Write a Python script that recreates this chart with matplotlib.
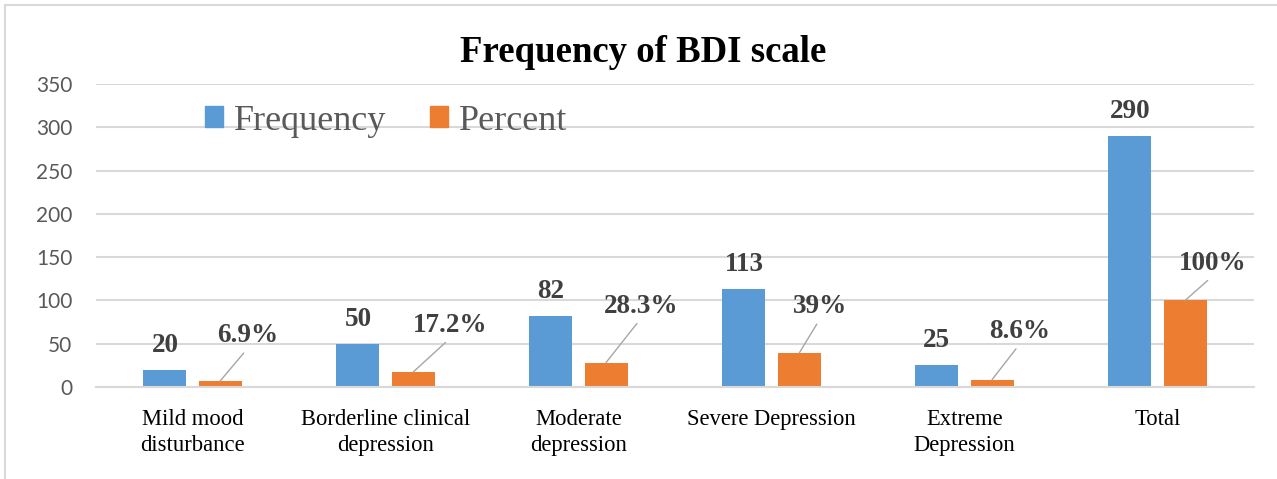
import matplotlib
matplotlib.use("Agg")
import matplotlib.pyplot as plt
from matplotlib.lines import Line2D
from matplotlib.patches import Patch
import numpy as np

# ── Data ──────────────────────────────────────────────────
categories = ["Mild mood\ndisturbance", "Borderline clinical\ndepression",
              "Moderate\ndepression", "Severe Depression",
              "Extreme\nDepression", "Total"]
frequency = [20, 50, 82, 113, 25, 290]
percent = [6.9, 17.2, 28.3, 39, 8.6, 100]
percent_labels = ["6.9%", "17.2%", "28.3%", "39%", "8.6%", "100%"]
yticks = [0, 50, 100, 150, 200, 250, 300, 350]

# label offsets (points) for the percent call-outs
pct_offsets = [(20, 28), (27, 29), (25, 36), (15, 29), (20, 30), (20, 22)]

BLUE = "#5b9bd5"
ORANGE = "#ed7d31"
LABEL = "#404040"
GRID = "#d9d9d9"
SERIF = ["Liberation Serif", "DejaVu Serif"]

W, H = 1277, 479
fig = plt.figure(figsize=(W / 100, H / 100), dpi=100)
ax = fig.add_axes([96 / W, 1 - 387 / H, (1254 - 96) / W, (387 - 84) / H])

x = np.arange(len(categories))
bw = 0.223
off = 0.143
ax.bar(x - off, frequency, bw, color=BLUE, zorder=2)
ax.bar(x + off, percent, bw, color=ORANGE, zorder=2)

# frequency values straight above the blue bars
for xi, v in zip(x, frequency):
    ax.annotate(str(v), xy=(xi - off, v), xytext=(0, 13),
                textcoords="offset points", ha="center", va="baseline",
                fontsize=19.5, fontweight="bold", color=LABEL, family=SERIF)

# percent values with leader lines
for xi, v, lab, (dx, dy) in zip(x, percent, percent_labels, pct_offsets):
    ax.annotate(lab, xy=(xi + off, v), xytext=(dx, dy),
                textcoords="offset points", ha="center", va="baseline",
                fontsize=19.5, fontweight="bold", color=LABEL, family=SERIF,
                arrowprops=dict(arrowstyle="-", color="#a6a6a6", lw=1,
                                shrinkA=2, shrinkB=0, relpos=(0.5, 0)))

ax.set_xlim(-0.5, len(categories) - 0.5)
ax.set_ylim(0, 350)
ax.set_yticks(yticks)
ax.set_xticks(x)
ax.set_xticklabels(categories, family=SERIF, fontsize=16.3, color="black",
                   linespacing=1.3)
for t in ax.get_yticklabels():
    t.set_family(["Lato", "DejaVu Sans"])
    t.set_fontsize(15)
    t.set_color("#595959")
ax.tick_params(axis="both", length=0)
ax.tick_params(axis="y", pad=17)
ax.tick_params(axis="x", pad=16)
ax.yaxis.grid(True, color=GRID, lw=1.5, zorder=0)
ax.set_axisbelow(True)
for s in ["top", "right", "left"]:
    ax.spines[s].set_visible(False)
ax.spines["bottom"].set_color(GRID)
ax.spines["bottom"].set_linewidth(1.5)

fig.text(643 / W, 1 - 62 / H, "Frequency of BDI scale", ha="center",
         va="baseline", fontsize=26.5, fontweight="bold", family=SERIF)

handles = [Patch(color=BLUE, label="Frequency"),
           Patch(color=ORANGE, label="Percent")]
leg = fig.legend(handles=handles, loc="center left",
                 bbox_to_anchor=(187 / W, 1 - 121 / H), ncol=2, frameon=False,
                 prop={"family": SERIF, "size": 26}, handlelength=0.5,
                 handleheight=0.5, handletextpad=0.3, columnspacing=1.2,
                 borderpad=0)
for t in leg.get_texts():
    t.set_color("#595959")

# chart frame (left and top edges only, the rest falls off the canvas)
fig.add_artist(Line2D([5 / W, 5 / W], [0, 1 - 5 / H], color=GRID, lw=1.5))
fig.add_artist(Line2D([5 / W, 1], [1 - 5 / H, 1 - 5 / H], color=GRID, lw=1.5))

fig.savefig("out.png", dpi=100, facecolor="white")
